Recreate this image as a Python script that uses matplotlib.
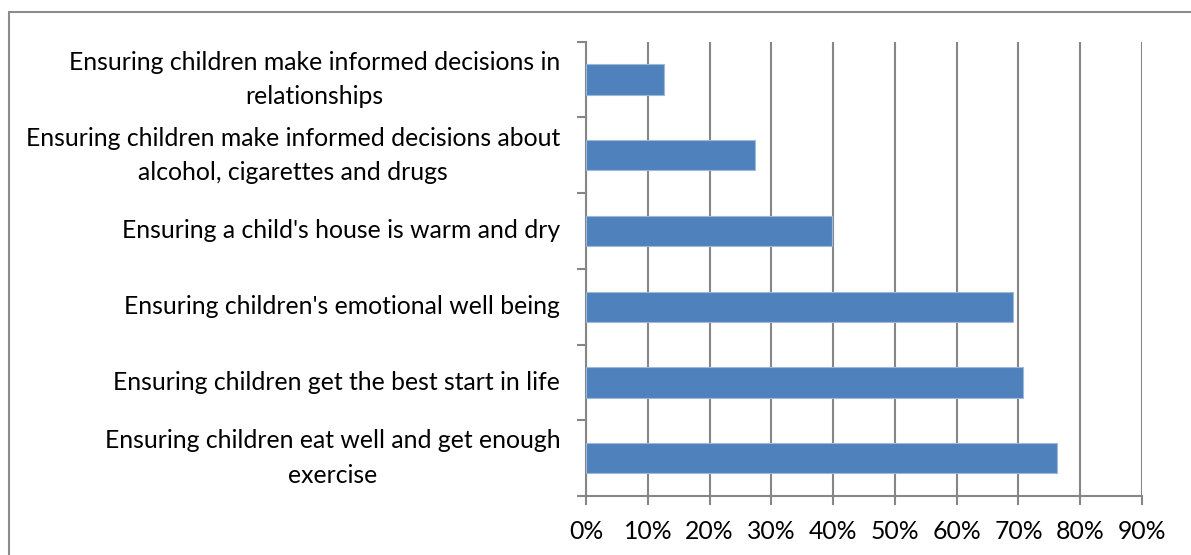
import matplotlib.pyplot as plt
import numpy as np
from matplotlib.patches import Rectangle
from matplotlib.ticker import FixedLocator, PercentFormatter

plt.rcParams['font.family'] = ['Lato', 'DejaVu Sans']

# survey priorities, bottom to top
categories = [
    "Ensuring children eat well and get enough\nexercise",
    "Ensuring children get the best start in life",
    "Ensuring children's emotional well being",
    "Ensuring a child's house is warm and dry",
    "Ensuring children make informed decisions about\nalcohol, cigarettes and drugs",
    "Ensuring children make informed decisions in\nrelationships",
]
shares = [0.763, 0.708, 0.691, 0.399, 0.273, 0.127]
x_ticks = np.arange(0, 0.91, 0.1)

grid_col = '#868686'
bar_col = '#4F81BD'

fig = plt.figure(figsize=(11.91, 5.55), dpi=100)
ax = fig.add_axes([0.492, 0.1063, 0.9589 - 0.492, 0.9249 - 0.1063])

y = np.arange(len(categories))
ax.barh(y, shares, height=0.4, color=bar_col, edgecolor='#9DB8DA', linewidth=0.8, zorder=3)

ax.set_xlim(0, 0.9)
ax.set_ylim(-0.5, len(categories) - 0.5)

ax.set_xticks(x_ticks)
ax.xaxis.set_major_formatter(PercentFormatter(1.0, decimals=0))
ax.grid(axis='x', color=grid_col, linewidth=1.5, zorder=0)
ax.tick_params(axis='x', direction='out', length=6.5, width=1.5, color=grid_col,
               labelsize=17.8, pad=11, labelcolor='black')

# category labels on the major ticks, separators on the minor ticks
ax.set_yticks(y)
ax.set_yticklabels(categories, multialignment='center', linespacing=1.6)
for lab in ax.get_yticklabels():
    lab.set_verticalalignment('center')
ax.tick_params(axis='y', which='major', length=0, labelsize=17.8, pad=18.5)
ax.yaxis.set_minor_locator(FixedLocator(np.arange(-0.5, len(categories), 1.0)))
ax.tick_params(axis='y', which='minor', direction='out', length=6.5, width=1.5, color=grid_col)

for side in ['top', 'right']:
    ax.spines[side].set_visible(False)
for side in ['left', 'bottom']:
    ax.spines[side].set_color(grid_col)
    ax.spines[side].set_linewidth(1.5)

# chart frame
fig.patches.append(Rectangle((9 / 1191, -0.05), 1.1, 1 - 12 / 555 + 0.05,
                             transform=fig.transFigure, fill=False,
                             edgecolor='#8C8C8C', linewidth=1.5, clip_on=False))

fig.savefig('out.png', dpi=100)
